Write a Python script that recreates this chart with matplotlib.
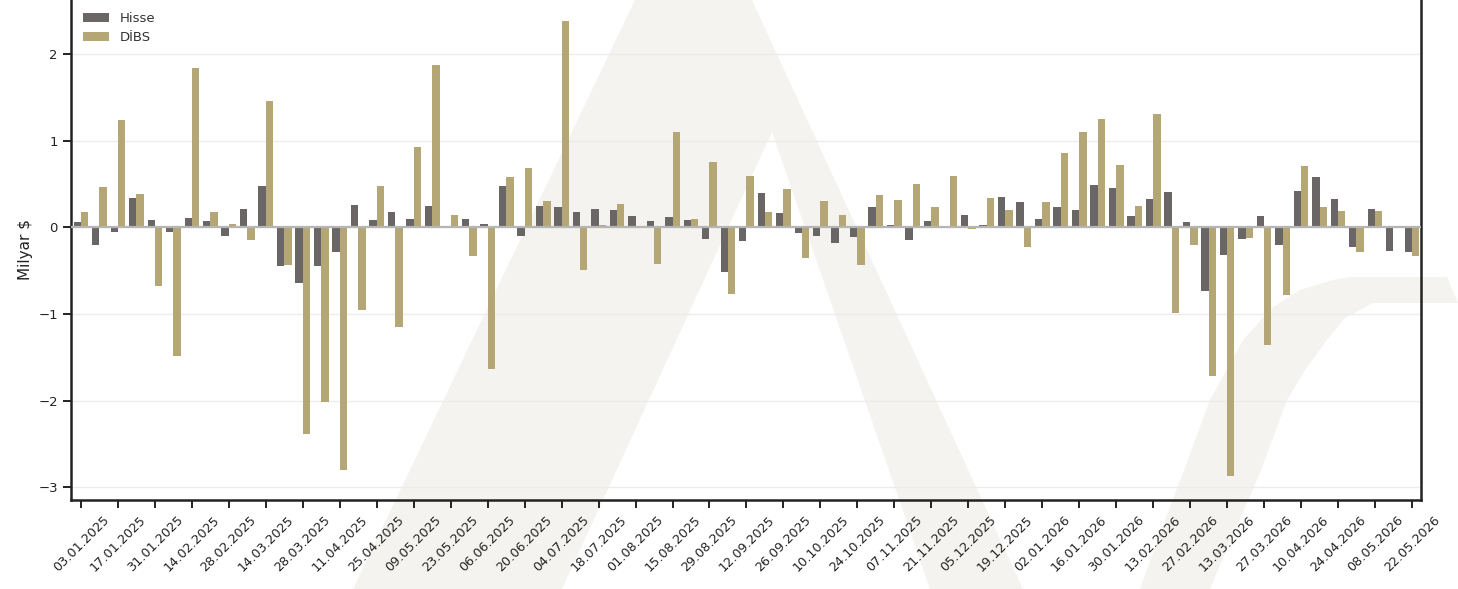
import matplotlib
matplotlib.use("Agg")
import matplotlib.pyplot as plt
import numpy as np
import pandas as pd
from matplotlib.patches import Polygon

# ---- data ----
dates = [d.strftime("%d.%m.%Y") for d in pd.date_range("2025-01-03", periods=73, freq="7D")]

hisse = [0.06, -0.21, -0.06, 0.34, 0.08, -0.05, 0.11, 0.07, -0.10, 0.21,
         0.48, -0.45, -0.64, -0.45, -0.29, 0.26, 0.08, 0.17, 0.10, 0.25,
         0.01, 0.10, 0.04, 0.48, -0.10, 0.25, 0.23, 0.17, 0.21, 0.20,
         0.13, 0.07, 0.12, 0.08, -0.13, -0.52, -0.16, 0.40, 0.16, -0.07,
         -0.10, -0.18, -0.11, 0.23, 0.03, -0.15, 0.07, -0.005, 0.14, 0.02,
         0.35, 0.29, 0.10, 0.23, 0.20, 0.49, 0.45, 0.13, 0.32, 0.41,
         0.06, -0.74, -0.32, -0.13, 0.13, -0.21, 0.42, 0.58, 0.32, -0.23,
         0.21, -0.27, -0.29]

dibs = [0.18, 0.46, 1.24, 0.38, -0.68, -1.48, 1.84, 0.17, 0.04, -0.15,
        1.46, -0.43, -2.38, -2.01, -2.80, -0.96, 0.48, -1.15, 0.93, 1.87,
        0.14, -0.33, -1.63, 0.58, 0.68, 0.30, 2.38, -0.49, 0.03, 0.27,
        0.005, -0.42, 1.10, 0.10, 0.75, -0.77, 0.59, 0.17, 0.44, -0.35,
        0.30, 0.14, -0.44, 0.37, 0.31, 0.50, 0.23, 0.59, -0.02, 0.34,
        0.20, -0.23, 0.29, 0.86, 1.10, 1.25, 0.72, 0.25, 1.31, -0.99,
        -0.21, -1.72, -2.87, -0.12, -1.36, -0.78, 0.71, 0.23, 0.19, -0.28,
        0.19, 0.0, -0.33]

series_names = ["Hisse", "DİBS"]
yticks = [-3, -2, -1, 0, 1, 2]

# ---- style ----
c_hisse = "#6b6666"
c_dibs = "#b5a675"
wm_color = "#f4f3ef"
W, H = 1458, 589

fig = plt.figure(figsize=(W / 100, H / 100), dpi=100)
fig.patch.set_facecolor("white")

# background axes for decorative watermark logo (pixel coords)
bg = fig.add_axes([0, 0, 1, 1], zorder=-5)
bg.set_xlim(0, W)
bg.set_ylim(H, 0)
bg.axis("off")

a_shape = [(353, 589), (635, 0), (752, 0), (1023, 589), (930, 589),
           (772, 132), (562, 589)]
bg.add_patch(Polygon(a_shape, closed=True, facecolor=wm_color, edgecolor="none"))
swoosh = [(1140, 589), (1165, 520), (1183, 473), (1210, 400), (1243, 340),
          (1273, 307), (1300, 290), (1333, 280), (1350, 277), (1447, 277),
          (1458, 303), (1373, 303), (1345, 318), (1327, 340), (1305, 370),
          (1287, 400), (1260, 473), (1235, 530), (1210, 589)]
bg.add_patch(Polygon(swoosh, closed=True, facecolor=wm_color, edgecolor="none"))

ax = fig.add_axes([71 / W, 89 / H, (1421 - 71) / W, 500 / H], zorder=1)
ax.set_facecolor("none")

x = np.arange(len(dates))
bw = 0.4
ax.bar(x - bw / 2, hisse, width=bw, color=c_hisse, label=series_names[0], zorder=2)
ax.bar(x + bw / 2, dibs, width=bw, color=c_dibs, label=series_names[1], zorder=2)
ax.axhline(0, color="#b5b5b5", lw=1.6, zorder=3)

ax.set_xlim(-0.54, 72.49)
ax.set_ylim(-3.145, 2.62)
ax.set_yticks(yticks)
ax.yaxis.grid(True, color="#ececec", lw=1.0, zorder=0)
ax.set_axisbelow(True)

ax.set_xticks(x[::2])
ax.set_xticklabels(dates[::2], rotation=45, fontsize=9.2, color="#222222")
ax.tick_params(axis="y", labelsize=9.5, colors="#222222", length=6, width=1.4)
ax.tick_params(axis="x", length=6, width=1.4, colors="#222222")
ax.set_ylabel("Milyar $", fontsize=11, color="#222222")

for s in ["left", "bottom", "right"]:
    ax.spines[s].set_linewidth(1.8)
    ax.spines[s].set_color("#222222")
ax.spines["top"].set_visible(False)

leg = ax.legend(loc="upper left", frameon=False, fontsize=9.5)
for t in leg.get_texts():
    t.set_color("#333333")

fig.savefig("out.png", dpi=100, facecolor="white")
